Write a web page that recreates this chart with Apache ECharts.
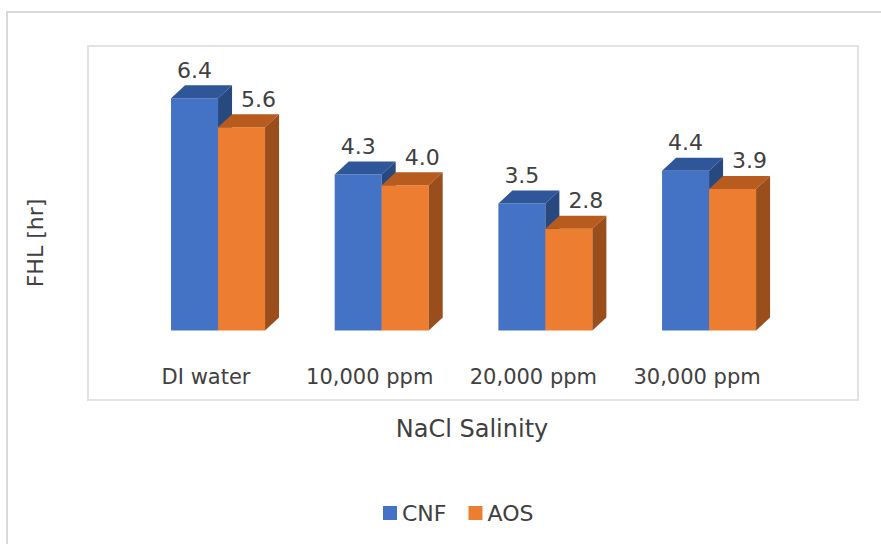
<!DOCTYPE html>
<html>
<head>
<meta charset="utf-8">
<title>FHL vs NaCl Salinity</title>
<script src="https://cdn.jsdelivr.net/npm/echarts@6/dist/echarts.min.js"></script>
<style>
  html, body { margin: 0; padding: 0; background: #ffffff; }
  #chart { width: 881px; height: 544px; }
</style>
</head>
<body>
<div id="chart"></div>
<script>
// Foam half-life per brine, for the two surfactant systems
const categories = ['DI water', '10,000 ppm', '20,000 ppm', '30,000 ppm'];
const cnfValues = [6.4, 4.3, 3.5, 4.4];
const aosValues = [5.6, 4.0, 2.8, 3.9];
const seriesNames = ['CNF', 'AOS'];
const yTitle = 'FHL [hr]';
const xTitle = 'NaCl Salinity';

const FONT = 'DejaVu Sans';
const TEXT_COLOR = '#404040';

// face colours: front, top, side
const palette = [
  { front: '#4472C4', top: '#30569A', side: '#284880' },
  { front: '#ED7D31', top: '#B75B1E', side: '#9A4E1C' }
];

// pseudo-3D column geometry (pixels)
const BAR_W = 47;
const GROUP_OFFSET = -35;   // left edge of first column relative to category centre
const DEPTH_X = 14;
const DEPTH_Y = 13;
const LABEL_SHIFT = [0, 17];

function makeRenderer(slot) {
  const c = palette[slot];
  return function (params, api) {
    const idx = api.value(0);
    const val = api.value(1);
    const base = api.coord([idx, 0]);
    const top = api.coord([idx, val]);
    const x0 = base[0] + GROUP_OFFSET + slot * BAR_W;
    const x1 = x0 + BAR_W;
    const yB = base[1];
    const yT = top[1];
    return {
      type: 'group',
      children: [
        {
          type: 'rect',
          shape: { x: x0, y: yT, width: BAR_W, height: yB - yT },
          style: { fill: c.front }
        },
        {
          type: 'polygon',
          shape: { points: [[x0, yT], [x0 + DEPTH_X, yT - DEPTH_Y], [x1 + DEPTH_X, yT - DEPTH_Y], [x1, yT]] },
          style: { fill: c.top }
        },
        {
          type: 'polygon',
          shape: { points: [[x1, yT], [x1 + DEPTH_X, yT - DEPTH_Y], [x1 + DEPTH_X, yB - DEPTH_Y], [x1, yB]] },
          style: { fill: c.side }
        },
        {
          type: 'text',
          style: {
            x: x0 + BAR_W / 2 + LABEL_SHIFT[slot],
            y: yT - 28,
            text: val.toFixed(1),
            align: 'center',
            verticalAlign: 'middle',
            fontFamily: FONT,
            fontSize: 22,
            fill: TEXT_COLOR
          }
        }
      ]
    };
  };
}

function toData(values) {
  return values.map((v, i) => [i, v]);
}

const chart = echarts.init(document.getElementById('chart'), null, { renderer: 'svg' });

chart.setOption({
  animation: false,
  backgroundColor: '#ffffff',
  grid: { left: 124.2, width: 654.7, top: 76.4, bottom: 213.5, containLabel: false },
  xAxis: {
    type: 'category',
    data: categories,
    axisLine: { show: false },
    axisTick: { show: false },
    splitLine: { show: false },
    axisLabel: {
      margin: 36,
      fontFamily: FONT,
      fontSize: 21,
      color: TEXT_COLOR,
      interval: 0
    }
  },
  yAxis: {
    type: 'value',
    min: 0,
    max: 7,
    show: false
  },
  legend: {
    data: seriesNames,
    left: 378,
    top: 497,
    icon: 'rect',
    itemWidth: 14,
    itemHeight: 14,
    itemGap: 22,
    textStyle: { fontFamily: FONT, fontSize: 22, color: TEXT_COLOR }
  },
  graphic: [
    {
      type: 'rect',
      shape: { x: 7, y: 12, width: 900, height: 600 },
      style: { fill: 'none', stroke: '#d9d9d9', lineWidth: 2 },
      silent: true
    },
    {
      type: 'rect',
      shape: { x: 88, y: 46, width: 770, height: 354 },
      style: { fill: 'none', stroke: '#e2e2e2', lineWidth: 2 },
      silent: true
    },
    {
      type: 'text',
      x: 35,
      y: 243,
      rotation: Math.PI / 2,
      style: {
        text: yTitle,
        align: 'center',
        verticalAlign: 'middle',
        fontFamily: FONT,
        fontSize: 22,
        fill: TEXT_COLOR
      },
      silent: true
    },
    {
      type: 'text',
      x: 472,
      y: 429,
      style: {
        text: xTitle,
        align: 'center',
        verticalAlign: 'middle',
        fontFamily: FONT,
        fontSize: 24,
        fill: TEXT_COLOR
      },
      silent: true
    }
  ],
  series: [
    {
      name: seriesNames[0],
      type: 'custom',
      renderItem: makeRenderer(0),
      itemStyle: { color: palette[0].front },
      encode: { x: 0, y: 1 },
      data: toData(cnfValues)
    },
    {
      name: seriesNames[1],
      type: 'custom',
      renderItem: makeRenderer(1),
      itemStyle: { color: palette[1].front },
      encode: { x: 0, y: 1 },
      data: toData(aosValues)
    }
  ]
});
</script>
</body>
</html>
